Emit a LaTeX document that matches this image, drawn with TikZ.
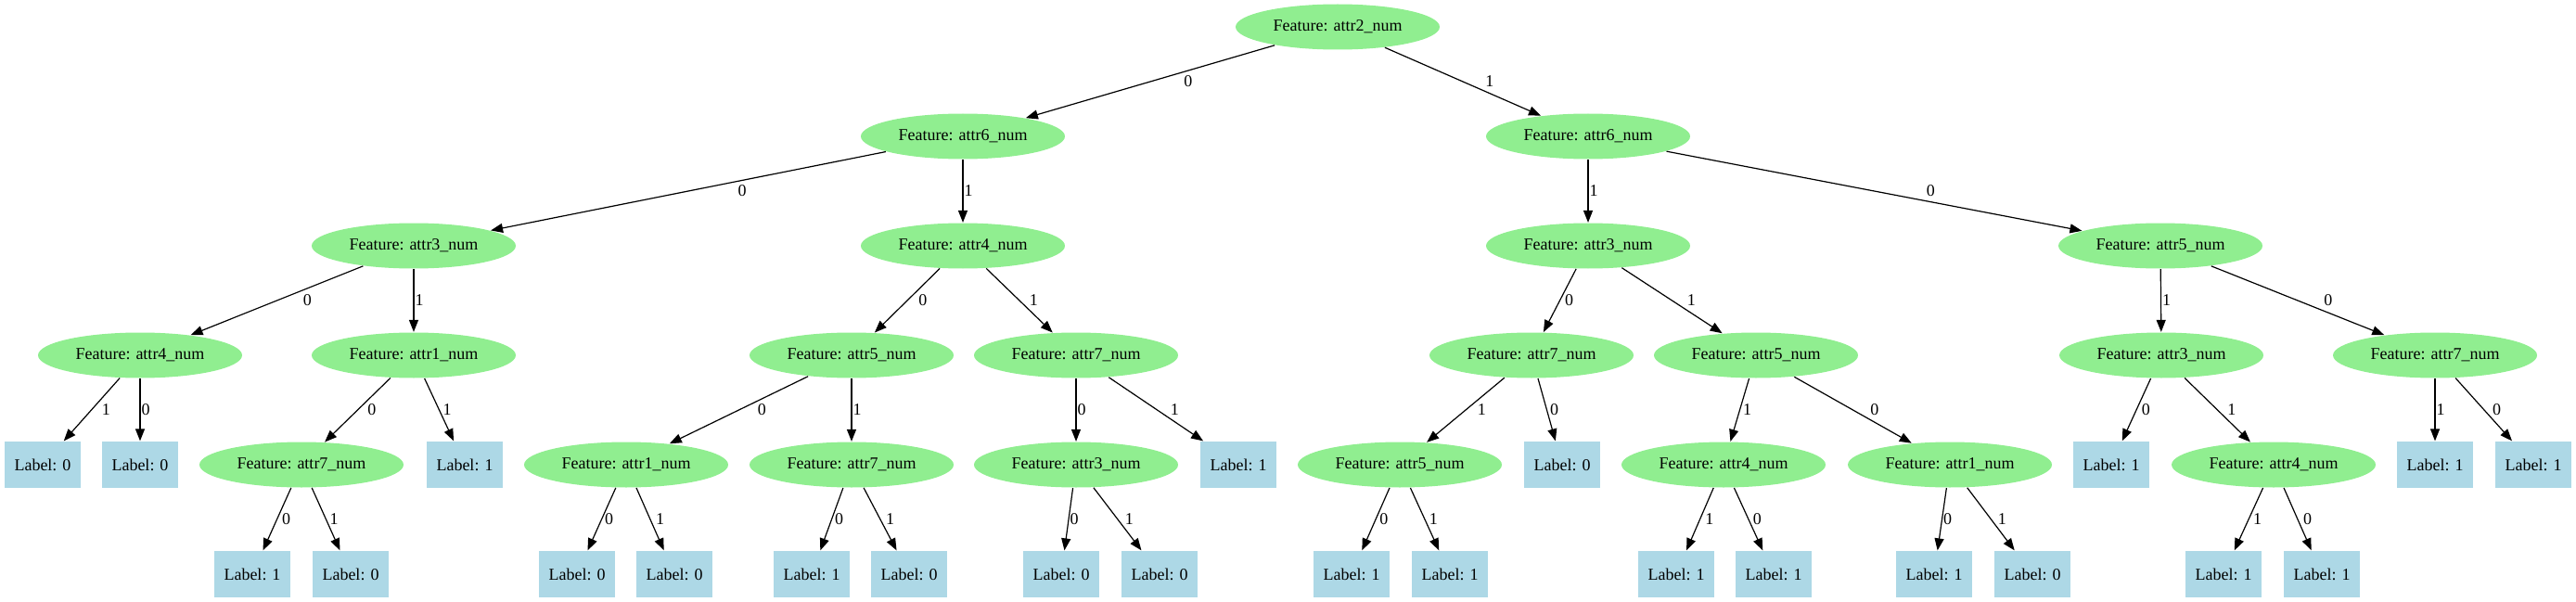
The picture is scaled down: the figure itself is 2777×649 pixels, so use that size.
\documentclass[tikz,border=0pt]{standalone}
\usepackage{fontspec}
\setmainfont{Liberation Serif}
\usepackage{tikz}
\usetikzlibrary{arrows.meta,shapes.geometric,positioning}
\definecolor{featgreen}{HTML}{90EE90}
\definecolor{leafblue}{HTML}{ADD8E6}
\tikzset{
  every picture/.style = {
    line width = 0.9pt,
    >={Triangle[length=9.75pt,width=7.5pt]},
  }
  ,
  feature/.style = {
    ellipse,
    fill = featgreen,
    inner sep = 0pt,
    font = \fontsize{13.5}{16}\selectfont,
    minimum width = 165pt,
    minimum height = 36.75pt
  }
  , % leaves of the tree
  leaf/.style = {
    rectangle,
    fill = leafblue,
    inner sep = 0pt,
    font = \fontsize{13.5}{16}\selectfont,
    minimum width = 62pt,
    minimum height = 37.5pt
  }
  , % labels of branches
  label-branch/.style = {
    pos = 0.5,
    right,
    inner sep = 0.75pt,
    font = \fontsize{13.5}{16}\selectfont
  }
}
\begin{document}
\begin{tikzpicture}[->, x = 0.75pt, y = -0.75pt]
\useasboundingbox (0,0) rectangle (2777,649);
% rank 0 and 1
\node[feature] at (1442,29) (t) {Feature: attr2\_num};
\node[feature] at (1038,147) (t0) {Feature: attr6\_num};
\node[feature] at (1712,147) (t1) {Feature: attr6\_num};
% rank 2
\node[feature] at (446,265) (t00) {Feature: attr3\_num};
\node[feature] at (1038,265) (t01) {Feature: attr4\_num};
\node[feature] at (1712,265) (t11) {Feature: attr3\_num};
\node[feature] at (2329,265) (t10) {Feature: attr5\_num};
% rank 3
\node[feature] at (151,383) (t000) {Feature: attr4\_num};
\node[feature] at (446,383) (t001) {Feature: attr1\_num};
\node[feature] at (918,383) (t010) {Feature: attr5\_num};
\node[feature] at (1160,383) (t011) {Feature: attr7\_num};
\node[feature] at (1651,383) (t110) {Feature: attr7\_num};
\node[feature] at (1893,383) (t111) {Feature: attr5\_num};
\node[feature] at (2330,383) (t101) {Feature: attr3\_num};
\node[feature] at (2625,383) (t100) {Feature: attr7\_num};
% rank 4
\node[leaf] at (46,501) (t0001) {Label: 0};
\node[leaf] at (151,501) (t0000) {Label: 0};
\node[feature] at (325,501) (t0010) {Feature: attr7\_num};
\node[leaf] at (501,501) (t0011) {Label: 1};
\node[feature] at (675,501) (t0100) {Feature: attr1\_num};
\node[feature] at (918,501) (t0101) {Feature: attr7\_num};
\node[feature] at (1160,501) (t0110) {Feature: attr3\_num};
\node[leaf] at (1335,501) (t0111) {Label: 1};
\node[feature] at (1509,501) (t1101) {Feature: attr5\_num};
\node[leaf] at (1684,501) (t1100) {Label: 0};
\node[feature] at (1858,501) (t1111) {Feature: attr4\_num};
\node[feature] at (2102,501) (t1110) {Feature: attr1\_num};
\node[leaf] at (2276,501) (t1010) {Label: 1};
\node[feature] at (2451,501) (t1011) {Feature: attr4\_num};
\node[leaf] at (2625,501) (t1001) {Label: 1};
\node[leaf] at (2731,501) (t1000) {Label: 1};
% rank 5
\node[leaf] at (272,619) (t00100) {Label: 1};
\node[leaf] at (378,619) (t00101) {Label: 0};
\node[leaf] at (622,619) (t01000) {Label: 0};
\node[leaf] at (727,619) (t01001) {Label: 0};
\node[leaf] at (875,619) (t01010) {Label: 1};
\node[leaf] at (980,619) (t01011) {Label: 0};
\node[leaf] at (1144,619) (t01100) {Label: 0};
\node[leaf] at (1250,619) (t01101) {Label: 0};
\node[leaf] at (1457,619) (t11010) {Label: 1};
\node[leaf] at (1563,619) (t11011) {Label: 1};
\node[leaf] at (1807,619) (t11111) {Label: 1};
\node[leaf] at (1912,619) (t11110) {Label: 1};
\node[leaf] at (2085,619) (t11100) {Label: 1};
\node[leaf] at (2191,619) (t11101) {Label: 0};
\node[leaf] at (2397,619) (t10111) {Label: 1};
\node[leaf] at (2503,619) (t10110) {Label: 1};
% branches
\path (t) edge node[label-branch, xshift=26pt] {0} (t0);
\path (t) edge node[label-branch, xshift=17pt] {1} (t1);
\path (t0) edge node[label-branch, xshift=39pt] {0} (t00);
\path (t0) edge node[label-branch] {1} (t01);
\path (t1) edge node[label-branch] {1} (t11);
\path (t1) edge node[label-branch, xshift=41pt] {0} (t10);
\path (t00) edge node[label-branch, xshift=20pt] {0} (t000);
\path (t00) edge node[label-branch] {1} (t001);
\path (t01) edge node[label-branch, xshift=8pt] {0} (t010);
\path (t01) edge node[label-branch, xshift=7pt] {1} (t011);
\path (t11) edge node[label-branch, xshift=3pt] {0} (t110);
\path (t11) edge node[label-branch, xshift=11pt] {1} (t111);
\path (t10) edge node[label-branch] {1} (t101);
\path (t10) edge node[label-branch, xshift=20pt] {0} (t100);
\path (t000) edge node[label-branch, xshift=7pt] {1} (t0001);
\path (t000) edge node[label-branch] {0} (t0000);
\path (t001) edge node[label-branch, xshift=7pt] {0} (t0010);
\path (t001) edge node[label-branch, xshift=2pt] {1} (t0011);
\path (t010) edge node[label-branch, xshift=14pt] {0} (t0100);
\path (t010) edge node[label-branch] {1} (t0101);
\path (t011) edge node[label-branch] {0} (t0110);
\path (t011) edge node[label-branch, xshift=10.5pt] {1} (t0111);
\path (t110) edge node[label-branch, xshift=8.5pt] {1} (t1101);
\path (t110) edge node[label-branch, xshift=1.5pt] {0} (t1100);
\path (t111) edge node[label-branch, xshift=1.5pt] {1} (t1111);
\path (t111) edge node[label-branch, xshift=13pt] {0} (t1110);
\path (t101) edge node[label-branch, xshift=3pt] {0} (t1010);
\path (t101) edge node[label-branch, xshift=7pt] {1} (t1011);
\path (t100) edge node[label-branch] {1} (t1001);
\path (t100) edge node[label-branch, xshift=6pt] {0} (t1000);
\path (t0010) edge node[label-branch, xshift=3pt] {0} (t00100);
\path (t0010) edge node[label-branch, xshift=2pt] {1} (t00101);
\path (t0100) edge node[label-branch, xshift=1.5pt] {0} (t01000);
\path (t0100) edge node[label-branch, xshift=3.5pt] {1} (t01001);
\path (t0101) edge node[label-branch, xshift=1.5pt] {0} (t01010);
\path (t0101) edge node[label-branch, xshift=3.5pt] {1} (t01011);
\path (t0110) edge node[label-branch] {0} (t01100);
\path (t0110) edge node[label-branch, xshift=5pt] {1} (t01101);
\path (t1101) edge node[label-branch, xshift=2pt] {0} (t11010);
\path (t1101) edge node[label-branch, xshift=2.5pt] {1} (t11011);
\path (t1111) edge node[label-branch, xshift=3pt] {1} (t11111);
\path (t1111) edge node[label-branch, xshift=2.5pt] {0} (t11110);
\path (t1110) edge node[label-branch] {0} (t11100);
\path (t1110) edge node[label-branch, xshift=4.5pt] {1} (t11101);
\path (t1011) edge node[label-branch, xshift=2.5pt] {1} (t10111);
\path (t1011) edge node[label-branch, xshift=3.5pt] {0} (t10110);
\end{tikzpicture}
\end{document}
